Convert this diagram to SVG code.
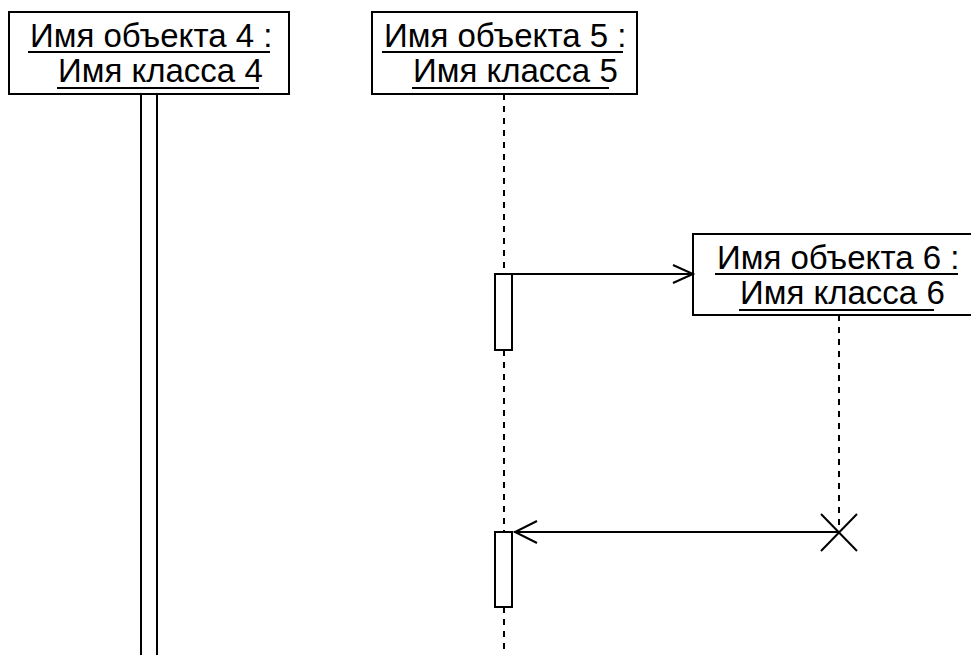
<svg xmlns="http://www.w3.org/2000/svg" width="971" height="655" viewBox="0 0 971 655">
<style>
.box{fill:#fff;stroke:#000;stroke-width:2}
.t{font-family:"Liberation Sans",Arial,sans-serif;font-size:33px;fill:#000}
.ul{stroke:#000;stroke-width:2}
.life{stroke:#000;stroke-width:2;stroke-dasharray:6 6;fill:none}
.ln{stroke:#000;stroke-width:2;fill:none}
.act{fill:#fff;stroke:#000;stroke-width:2}
</style>
<rect width="971" height="655" fill="#fff"/>
<g id="obj4">
<line class="ln" x1="141" y1="94" x2="141" y2="655"/>
<line class="ln" x1="157" y1="94" x2="157" y2="655"/>
<rect class="box" x="9" y="12" width="280" height="82"/>
<text class="t" x="30" y="47">Имя объекта 4 :</text>
<line class="ul" x1="28" y1="52" x2="270" y2="52"/>
<text class="t" x="58" y="82">Имя класса 4</text>
<line class="ul" x1="57" y1="88" x2="259" y2="88"/>
</g>
<g id="obj5">
<path class="life" d="M504 94V274M504 350V532M504 607V655"/>
<rect class="box" x="372" y="12" width="265" height="82"/>
<text class="t" x="384" y="47">Имя объекта 5 :</text>
<line class="ul" x1="382" y1="52" x2="623" y2="52"/>
<text class="t" x="413" y="82">Имя класса 5</text>
<line class="ul" x1="412" y1="88" x2="609" y2="88"/>
<rect class="act" x="495" y="274" width="17" height="76"/>
<rect class="act" x="495" y="532" width="17" height="75"/>
</g>
<g id="obj6">
<path class="life" d="M839 315V532"/>
<rect class="box" x="693" y="234" width="300" height="81"/>
<text class="t" x="717" y="269">Имя объекта 6 :</text>
<line class="ul" x1="715" y1="274" x2="958" y2="274"/>
<text class="t" x="740" y="304">Имя класса 6</text>
<line class="ul" x1="739" y1="310" x2="934" y2="310"/>
<path class="ln" d="M821 514L857 551M857 514L821 551"/>
</g>
<g id="connectors">
<line class="ln" x1="512" y1="274" x2="693" y2="274"/>
<path class="ln" d="M673 265L693 274L673 283"/>
<line class="ln" x1="839" y1="532" x2="514" y2="532"/>
<path class="ln" d="M537 521L515 532L537 543"/>
</g>
</svg>
